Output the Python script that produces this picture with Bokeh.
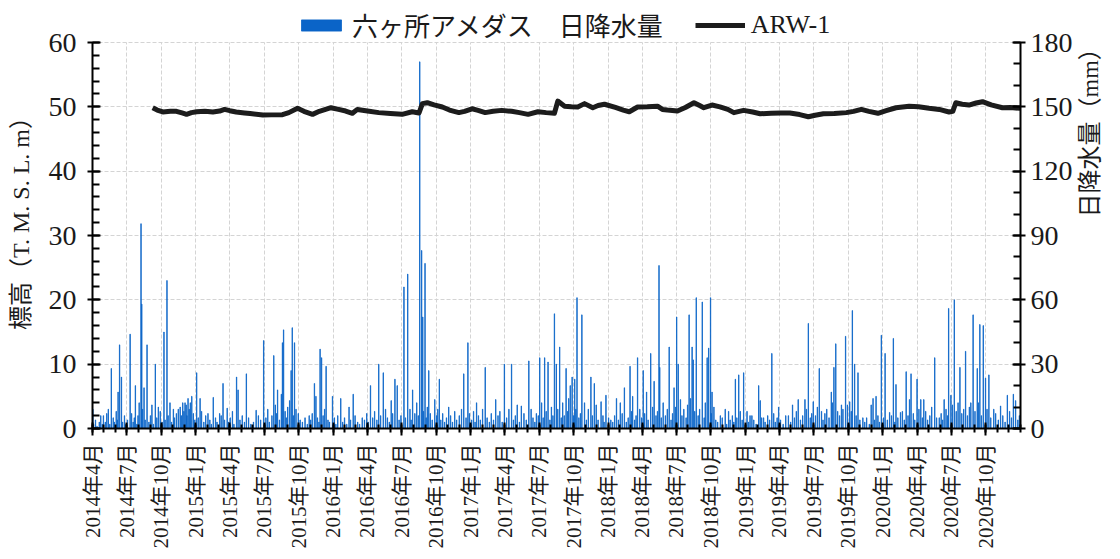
import math
import datetime as dt
from bokeh.plotting import figure
from bokeh.models import (Range1d, LinearAxis, FixedTicker, SingleIntervalTicker,
                          Legend, LegendItem)
from bokeh.embed import file_html
from bokeh.resources import INLINE

# ---------------- data ----------------
START = "2014-04-01"
END = "2021-01-01"

tick_labels = ["2014年4月", "2014年7月", "2014年10月",
               "2015年1月", "2015年4月", "2015年7月", "2015年10月",
               "2016年1月", "2016年4月", "2016年7月", "2016年10月",
               "2017年1月", "2017年4月", "2017年7月", "2017年10月",
               "2018年1月", "2018年4月", "2018年7月", "2018年10月",
               "2019年1月", "2019年4月", "2019年7月", "2019年10月",
               "2020年1月", "2020年4月", "2020年7月", "2020年10月"]

# daily precipitation (mm): larger events, day = days since START
rain_day = [1, 29, 42, 50, 68, 72, 77, 100, 114, 124, 129, 131, 137, 145, 158, 167, 175, 190, 198, 206,
            215, 228, 246, 254, 264, 277, 286, 307, 321, 338, 347, 358, 372, 383, 387, 409, 435, 455, 482, 492,
            502, 505, 508, 524, 528, 531, 537, 547, 576, 590, 594, 605, 609, 621, 638, 660, 682, 693, 717, 739,
            761, 773, 794, 804, 810, 828, 838, 851, 870, 875, 878, 884, 894, 910, 922, 947, 987, 998, 1021, 1044,
            1072, 1095, 1114, 1140, 1160, 1180, 1189, 1202, 1211, 1228, 1233, 1242, 1259, 1270, 1275, 1282, 1288, 1301, 1308, 1325,
            1334, 1352, 1365, 1378, 1393, 1403, 1414, 1429, 1436, 1449, 1464, 1473, 1484, 1493, 1506, 1508, 1533, 1546, 1553, 1557,
            1563, 1586, 1594, 1597, 1605, 1621, 1634, 1638, 1643, 1647, 1652, 1669, 1682, 1691, 1709, 1718, 1731, 1740, 1753, 1771,
            1775, 1784, 1806, 1824, 1850, 1861, 1876, 1894, 1903, 1916, 1932, 1947, 1964, 1971, 1976, 1991, 2002, 2013, 2020, 2026,
            2035, 2048, 2070, 2075, 2083, 2097, 2107, 2119, 2129, 2136, 2148, 2163, 2172, 2176, 2192, 2202, 2210, 2231, 2239, 2251,
            2264, 2276, 2282, 2291, 2306, 2321, 2335, 2341, 2352, 2359, 2368, 2374, 2383, 2396, 2414, 2432, 2448, 2454]
rain_mm = [9, 6, 9, 28, 17, 39, 24, 44, 20, 12, 95.5, 58, 19, 39, 11, 30, 10, 45, 69, 12,
           9, 9, 12, 14, 15, 26, 14, 7, 14.5, 7, 21, 9.5, 8, 24, 18, 25.5, 8.5, 41, 34, 18,
           16, 40, 46, 13, 27, 47, 40, 7, 6, 21, 15, 37, 33, 29, 15, 14, 10, 16, 5, 20,
           30, 26, 13, 23, 20, 66, 72, 18, 171, 83, 52, 77, 27, 13.5, 23, 10, 25.5, 40, 12, 28.5,
           13.5, 30, 30, 10.5, 31.5, 7, 33, 33, 31, 53.5, 30, 38, 28, 20, 24, 23, 61, 53, 12, 24,
           21, 12.5, 15.5, 4, 14, 12, 19, 29, 15, 33, 27, 17, 35, 22, 76, 28.5, 38, 19, 52, 30,
           13.5, 53, 38, 32, 61, 59, 33, 37.5, 61, 17, 10, 6, 9, 8, 23, 25, 26, 8, 6, 20,
           13, 5, 35, 10, 6, 11, 13.5, 13.5, 49, 12.5, 28, 7, 17, 28.5, 39.5, 11, 43, 12.5, 55, 30,
           26, 5, 11, 14, 15, 43.5, 35, 7.5, 42, 20.5, 7.5, 26.5, 13.5, 25.5, 23, 13.5, 13.5, 10, 33, 5,
           13.5, 56, 15.5, 60, 28.5, 36, 12, 53, 28, 48.5, 48, 23.5, 25, 9, 10.5, 15.5, 16, 13]

# daily precipitation (mm): light-rain days
light_day = [3, 8, 12, 18, 22, 26, 34, 38, 46, 55, 58, 63, 66, 80, 85, 89, 93, 104, 108, 111,
             118, 121, 133, 140, 150, 154, 162, 171, 180, 185, 193, 201, 210, 218, 223, 233, 236, 240, 243, 249,
             251, 257, 260, 268, 272, 281, 290, 296, 301, 312, 316, 327, 331, 342, 351, 362, 366, 376, 392, 398,
             404, 415, 421, 428, 441, 447, 461, 466, 470, 477, 486, 489, 497, 512, 515, 519, 534, 541, 552, 558,
             565, 571, 580, 584, 598, 602, 613, 617, 626, 630, 643, 647, 652, 665, 670, 676, 686, 698, 705, 710,
             723, 729, 733, 745, 750, 756, 766, 779, 784, 789, 798, 815, 820, 832, 844, 847, 857, 862, 866, 880,
             887, 890, 898, 903, 915, 918, 926, 931, 936, 941, 952, 957, 963, 968, 975, 981, 993, 1002, 1008, 1013,
             1017, 1026, 1031, 1037, 1049, 1055, 1060, 1066, 1078, 1083, 1089, 1101, 1107, 1119, 1124, 1129, 1135, 1147, 1153, 1166,
             1171, 1176, 1185, 1194, 1198, 1206, 1216, 1220, 1224, 1237, 1246, 1250, 1254, 1263, 1266, 1279, 1285, 1293, 1297, 1313,
             1318, 1329, 1339, 1344, 1357, 1360, 1372, 1383, 1388, 1398, 1408, 1419, 1424, 1433, 1441, 1445, 1455, 1460, 1468, 1477,
             1489, 1498, 1502, 1512, 1517, 1523, 1528, 1538, 1542, 1550, 1567, 1572, 1578, 1582, 1590, 1601, 1610, 1614, 1626, 1629,
             1645, 1657, 1662, 1674, 1686, 1695, 1701, 1705, 1713, 1722, 1727, 1744, 1748, 1758, 1764, 1779, 1788, 1795, 1800, 1811,
             1815, 1820, 1829, 1836, 1843, 1856, 1866, 1871, 1882, 1888, 1898, 1908, 1912, 1922, 1927, 1938, 1942, 1952, 1958, 1967,
             1981, 1986, 1995, 2007, 2017, 2030, 2040, 2053, 2058, 2065, 2079, 2088, 2092, 2103, 2113, 2124, 2133, 2141, 2153, 2158,
             2168, 2182, 2186, 2197, 2206, 2215, 2220, 2226, 2244, 2256, 2260, 2269, 2273, 2286, 2296, 2301, 2311, 2316, 2326, 2331,
             2346, 2355, 2363, 2378, 2388, 2401, 2408, 2420, 2426, 2438, 2443, 2460, 2464]
light_mm = [2, 4, 1, 3, 6, 2, 3, 7, 2, 5, 3, 8, 4, 3, 6, 2, 4, 7, 3, 5,
            2, 6, 9, 4, 3, 6, 2, 5, 8, 3, 4, 6, 3, 5, 7, 10, 6, 12, 8, 11,
            6, 9, 12, 7, 4, 5, 8, 3, 6, 4, 2, 5, 3, 6, 4, 3, 5, 2, 4, 6,
            3, 5, 2, 3, 6, 4, 5, 9, 3, 6, 11, 7, 4, 8, 5, 10, 6, 9, 4, 3,
            5, 2, 4, 7, 5, 3, 6, 9, 4, 3, 5, 2, 6, 3, 5, 2, 4, 6, 3, 2,
            4, 7, 3, 5, 8, 4, 6, 9, 5, 3, 7, 4, 6, 5, 9, 4, 7, 12, 6, 8,
            5, 10, 7, 4, 6, 9, 4, 7, 3, 5, 6, 3, 8, 4, 6, 9, 5, 7, 4, 8,
            3, 6, 4, 9, 5, 3, 7, 4, 6, 8, 3, 5, 9, 4, 6, 11, 3, 7, 4, 9,
            5, 3, 6, 12, 5, 8, 4, 10, 6, 9, 5, 12, 6, 8, 14, 6, 9, 5, 7, 4,
            9, 6, 11, 4, 6, 3, 5, 3, 6, 4, 7, 3, 5, 8, 4, 6, 9, 5, 7, 4,
            10, 6, 8, 5, 12, 6, 9, 4, 7, 10, 6, 9, 5, 11, 14, 8, 6, 9, 5, 12,
            7, 4, 3, 5, 2, 4, 6, 3, 5, 8, 4, 3, 6, 4, 2, 5, 3, 6, 4, 7,
            3, 5, 4, 2, 6, 3, 5, 8, 4, 6, 9, 5, 7, 6, 10, 8, 4, 9, 5, 12,
            8, 6, 9, 11, 8, 6, 4, 3, 5, 2, 4, 6, 3, 5, 4, 6, 3, 5, 8, 4,
            6, 7, 4, 9, 5, 8, 4, 6, 5, 7, 4, 9, 6, 11, 8, 12, 7, 9, 6, 10,
            8, 12, 6, 9, 5, 7, 4, 6, 3, 8, 5, 4, 6]

# groundwater level ARW-1 (T.M.S.L. m)
level_date = ["2014-09-08", "2014-09-20", "2014-10-05", "2014-10-25", "2014-11-10", "2014-11-25", "2014-12-07",
              "2014-12-20", "2015-01-03", "2015-01-25", "2015-02-15", "2015-03-05", "2015-03-18", "2015-04-01",
              "2015-04-18", "2015-05-10", "2015-05-25", "2015-06-28", "2015-07-20", "2015-08-19", "2015-09-05",
              "2015-09-28", "2015-10-15", "2015-11-07", "2015-11-25", "2015-12-26", "2016-01-15", "2016-02-03",
              "2016-02-21", "2016-03-05", "2016-04-01", "2016-05-01", "2016-06-01", "2016-07-02", "2016-07-29",
              "2016-08-16", "2016-08-25", "2016-09-07", "2016-09-25", "2016-10-17", "2016-11-05", "2016-11-30",
              "2016-12-15", "2017-01-04", "2017-01-20", "2017-02-08", "2017-03-01", "2017-03-24", "2017-04-19",
              "2017-05-10", "2017-06-02", "2017-06-28", "2017-07-20", "2017-08-11", "2017-08-20", "2017-09-07",
              "2017-09-25", "2017-10-12", "2017-10-30", "2017-11-21", "2017-12-05", "2017-12-22", "2018-01-20",
              "2018-02-10", "2018-02-26", "2018-03-20", "2018-04-15", "2018-05-12", "2018-05-25", "2018-06-07",
              "2018-07-04", "2018-07-25", "2018-08-17", "2018-09-01", "2018-09-12", "2018-10-04", "2018-10-25",
              "2018-11-15", "2018-12-01", "2018-12-27", "2019-01-20", "2019-02-09", "2019-03-10", "2019-04-05",
              "2019-04-29", "2019-05-25", "2019-06-17", "2019-07-05", "2019-07-27", "2019-08-25", "2019-09-26",
              "2019-10-15", "2019-11-05", "2019-11-25", "2019-12-19", "2020-01-10", "2020-02-05", "2020-03-11",
              "2020-04-05", "2020-05-03", "2020-05-30", "2020-06-25", "2020-07-05", "2020-07-13", "2020-07-30",
              "2020-08-17", "2020-09-05", "2020-09-22", "2020-10-15", "2020-11-14", "2020-12-05", "2020-12-31"]
level_m = [49.86, 49.5, 49.2, 49.3, 49.3, 49.05, 48.83,
           49.1, 49.24, 49.3, 49.2, 49.35, 49.6, 49.4,
           49.2, 49.05, 48.95, 48.72, 48.75, 48.77, 49.1,
           49.77, 49.3, 48.83, 49.3, 49.86, 49.6, 49.35,
           49.0, 49.6, 49.35, 49.1, 48.95, 48.83, 49.24,
           49.04, 50.5, 50.64, 50.3, 49.97, 49.5, 49.1,
           49.3, 49.7, 49.45, 49.1, 49.3, 49.45, 49.3,
           49.1, 48.83, 49.24, 49.1, 49.0, 50.9, 50.1,
           50.0, 49.97, 50.5, 49.86, 50.2, 50.4, 49.9,
           49.5, 49.24, 49.97, 50.0, 50.1, 49.6, 49.5,
           49.35, 49.9, 50.64, 50.2, 49.86, 50.28, 50.0,
           49.6, 49.1, 49.45, 49.2, 48.93, 49.0, 49.05,
           49.04, 48.8, 48.46, 48.7, 48.93, 48.95, 49.1,
           49.3, 49.6, 49.3, 49.0, 49.4, 49.86, 50.1,
           50.0, 49.77, 49.6, 49.2, 49.3, 50.64, 50.4,
           50.28, 50.6, 50.8, 50.3, 49.86, 49.9, 49.77]

# ---------------- build ----------------
BLUE = "#0a64c8"
SERIF = "'Liberation Serif', 'Noto Sans CJK JP'"

start = dt.datetime.fromisoformat(START)
end = dt.datetime.fromisoformat(END)
EPOCH = dt.datetime(1970, 1, 1)


def ms(d):
    return (d - EPOCH).total_seconds() * 1000.0


bar_x = [start + dt.timedelta(days=d) for d in rain_day + light_day]
bar_top = rain_mm + light_mm
line_x = [dt.datetime.fromisoformat(s) for s in level_date]

tick_dates = []
for lab in tick_labels:
    y, rest = lab.split("年")
    tick_dates.append(dt.datetime(int(y), int(rest.rstrip("月")), 1))
tick_ms = [ms(d) for d in tick_dates]
minor_ms = []
cur = start
while cur <= end:
    minor_ms.append(ms(cur))
    cur = dt.datetime(cur.year + (cur.month // 12), cur.month % 12 + 1, 1)

# the frame is extended upward (headroom for the legend); axes are bounded to 0-60 / 0-180
W, H = 1118, 555
TOP, BOTTOM, LEFT, RIGHT = 6, 127, 92, 96
FRAME_H = H - TOP - BOTTOM
Y_MAX = 60.0 * FRAME_H / 386.0

p = figure(width=W, height=H, x_axis_type="datetime",
           x_range=Range1d(start, end), y_range=Range1d(0, Y_MAX),
           output_backend="svg", toolbar_location=None,
           min_border_left=LEFT, min_border_right=RIGHT, min_border_top=TOP, min_border_bottom=BOTTOM)
p.extra_y_ranges = {"rain": Range1d(0, 3 * Y_MAX)}
p.outline_line_color = None
p.background_fill_color = "white"
p.border_fill_color = "white"

bars = p.vbar(x=bar_x, top=bar_top, bottom=0, width=86400000, y_range_name="rain",
              fill_color=BLUE, line_color=BLUE, line_width=0.8)
ln = p.line(x=line_x, y=level_m, line_width=5, line_color="#1c1c1c", line_join="round")

# x axis
xa = p.xaxis[0]
xa.ticker = FixedTicker(ticks=tick_ms, minor_ticks=minor_ms)
xa.major_label_overrides = {t: lab for t, lab in zip(tick_ms, tick_labels)}
xa.major_label_orientation = math.pi / 2
xa.major_label_text_font = SERIF
xa.major_label_text_font_size = "21px"
xa.major_label_standoff = 8

# left axis
ya = p.yaxis[0]
ya.ticker = SingleIntervalTicker(interval=10, num_minor_ticks=5)
ya.bounds = (0, 60)
ya.axis_label = "標高（T. M. S. L. m）"
ya.major_label_text_font_size = "28px"
ya.major_label_text_font = SERIF
ya.axis_label_text_font = SERIF
ya.axis_label_text_font_size = "24px"
ya.axis_label_text_font_style = "normal"
ya.major_label_standoff = 11
ya.axis_label_standoff = 12

# right axis
yr = LinearAxis(y_range_name="rain", ticker=SingleIntervalTicker(interval=30, num_minor_ticks=3),
                axis_label="日降水量（mm）", bounds=(0, 180))
p.add_layout(yr, "right")
yr.major_label_text_font_size = "28px"
yr.major_label_text_font = SERIF
yr.axis_label_text_font = SERIF
yr.axis_label_text_font_size = "24px"
yr.axis_label_text_font_style = "normal"
yr.major_label_standoff = 5
yr.axis_label_standoff = 14
try:
    yr.axis_label_orientation = math.pi / 2
except Exception:
    pass

for ax in (xa, ya, yr):
    ax.axis_line_color = "black"
    ax.axis_line_width = 2
    ax.major_tick_line_color = "black"
    ax.major_tick_line_width = 2
    ax.minor_tick_line_color = "black"
    ax.minor_tick_line_width = 2
    ax.major_label_text_color = "#1a1a1a"
    ax.axis_label_text_color = "#1a1a1a"

xa.major_tick_in = 6
xa.major_tick_out = 7
xa.minor_tick_in = 4
xa.minor_tick_out = 4
for ax in (ya, yr):
    ax.major_tick_in = 8
    ax.major_tick_out = 5
    ax.minor_tick_in = 7
    ax.minor_tick_out = 0

for g in (p.xgrid[0], p.ygrid[0]):
    g.grid_line_color = "#d4d4d4"
    g.grid_line_width = 1
    g.grid_line_dash = "4 2"
p.ygrid[0].bounds = (0, 60)
try:
    p.xgrid[0].cross_bounds = (0, 60)
except Exception:
    pass

legend = Legend(items=[LegendItem(label="六ヶ所アメダス　日降水量", renderers=[bars]),
                       LegendItem(label="ARW-1", renderers=[ln])],
                orientation="horizontal", location=(204, 385))
legend.label_text_font = SERIF
legend.label_text_font_size = "26px"
legend.label_text_color = "#1a1a1a"
legend.glyph_width = 50
legend.glyph_height = 14
legend.label_standoff = 6
legend.spacing = 32
legend.padding = 0
legend.margin = 0
legend.border_line_color = None
legend.background_fill_alpha = 0
p.add_layout(legend, "center")

open("out.html", "w").write(file_html(p, INLINE))
